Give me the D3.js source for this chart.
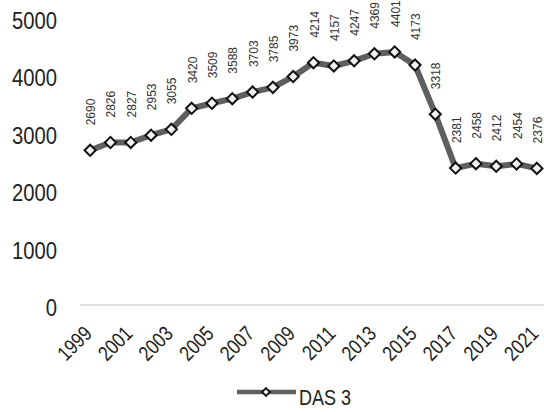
<!DOCTYPE html>
<meta charset="utf-8">
<style>
body { margin: 0; background: #fff; }
svg { display: block; }
.tick { font-family: "Liberation Sans", Arial, sans-serif; fill: #222; }
.lbl { font-family: "Liberation Sans", Arial, sans-serif; font-size: 12px; fill: #333; }
</style>
<svg width="544" height="412"></svg>
<script src="https://cdn.jsdelivr.net/npm/d3@7"></script>
<script>

var years = ["1999","2000","2001","2002","2003","2004","2005","2006","2007","2008","2009","2010",
             "2011","2012","2013","2014","2015","2016","2017","2018","2019","2020","2021"];
var das3 = [2690, 2826, 2827, 2953, 3055, 3420, 3509, 3588, 3703, 3785, 3973, 4214,
            4157, 4247, 4369, 4401, 4173, 3318, 2381, 2458, 2412, 2454, 2376];
var yTicks = [0, 1000, 2000, 3000, 4000, 5000];
var seriesName = "DAS 3";

var svg = d3.select("svg");

var x = d3.scalePoint().domain(years).range([80, 547]).padding(0.5),
    y = d3.scaleLinear().domain([0, 5000]).range([305, 17.5]);

var data = years.map(function(d, i) { return {year: d, value: das3[i]}; });

// y labels (narrow look via horizontal scale)
svg.append("g")
    .selectAll("text")
    .data(yTicks)
    .enter().append("text")
      .attr("class", "tick")
      .attr("transform", function(d) { return "translate(57," + (y(d) + 11) + ") scale(0.88,1)"; })
      .attr("text-anchor", "end")
      .style("font-size", "23px")
      .text(function(d) { return d; });

// baseline
svg.append("line")
    .attr("x1", 80).attr("x2", 544)
    .attr("y1", y(0)).attr("y2", y(0))
    .style("stroke", "#d9d9d9")
    .style("stroke-width", 1.5);

// x labels, every other year
svg.append("g")
    .selectAll("text")
    .data(years.filter(function(d, i) { return i % 2 === 0; }))
    .enter().append("text")
      .attr("class", "tick")
      .attr("transform", function(d) { return "translate(" + (x(d) + 3) + ",335) rotate(-45) scale(0.82,1)"; })
      .attr("text-anchor", "end")
      .style("font-size", "21px")
      .text(function(d) { return d; });

var line = d3.line()
    .x(function(d) { return x(d.year); })
    .y(function(d) { return y(d.value); });

svg.append("path")
    .datum(data)
    .attr("d", line)
    .style("fill", "none")
    .style("stroke", "#5f5f5f")
    .style("stroke-width", 6)
    .style("stroke-linejoin", "round");

var diamond = d3.symbol().type(d3.symbolDiamond2).size(80);

svg.selectAll(".pt")
    .data(data)
    .enter().append("path")
      .attr("class", "pt")
      .attr("d", diamond)
      .attr("transform", function(d) { return "translate(" + x(d.year) + "," + y(d.value) + ")"; })
      .style("fill", "#f2f2f2")
      .style("stroke", "#111")
      .style("stroke-width", 2);

svg.selectAll(".lbl")
    .data(data)
    .enter().append("text")
      .attr("class", "lbl")
      .attr("transform", function(d) { return "translate(" + (x(d.year) + 5) + "," + (y(d.value) - 25) + ") rotate(-90)"; })
      .text(function(d) { return d.value; });

// legend
var lg = svg.append("g").attr("transform", "translate(237,392)");
lg.append("line")
    .attr("x1", 0).attr("x2", 59)
    .style("stroke", "#5f5f5f")
    .style("stroke-width", 4.5);
lg.append("path")
    .attr("d", d3.symbol().type(d3.symbolDiamond2).size(40))
    .attr("transform", "translate(29,0)")
    .style("fill", "#f2f2f2")
    .style("stroke", "#111")
    .style("stroke-width", 1.8);
lg.append("text")
    .attr("class", "tick")
    .attr("transform", "translate(62,13) scale(0.82,1)")
    .style("font-size", "22px")
    .text(seriesName);

</script>
